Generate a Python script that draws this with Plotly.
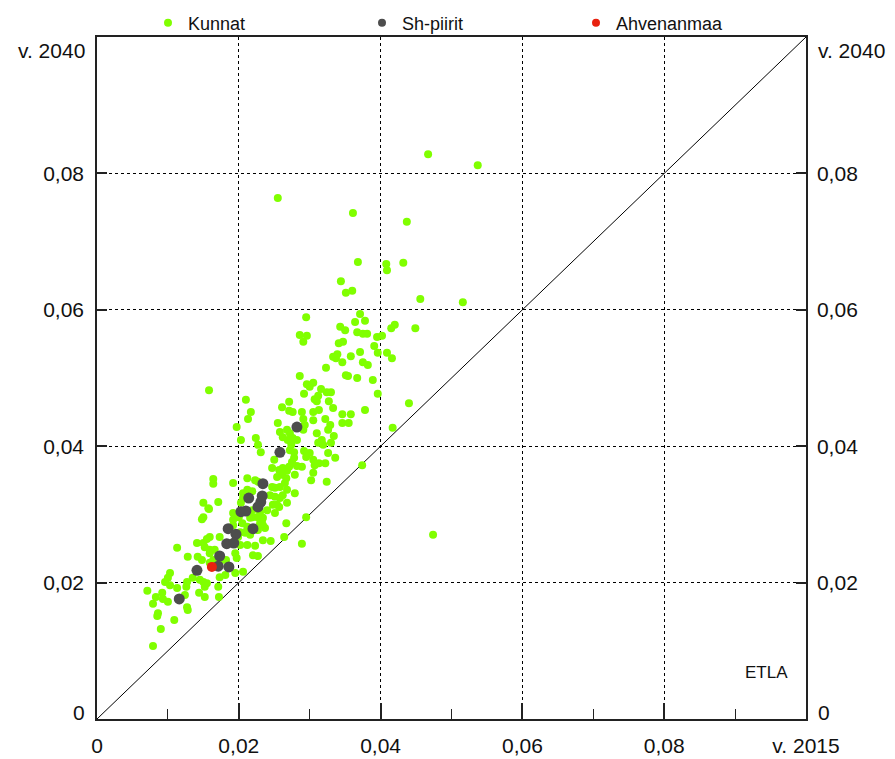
import plotly.graph_objects as go

# ---- data (share 2015 vs share 2040) ----
kunnat_2015 = [
    0.0255, 0.0467, 0.0537, 0.0361, 0.0437, 0.0368, 0.0408, 0.0409, 0.0432, 0.0344,
    0.0351, 0.0360, 0.0456, 0.0516, 0.0295, 0.0371, 0.0364, 0.0378, 0.0343, 0.0350,
    0.0415, 0.0420, 0.0449, 0.0367, 0.0375, 0.0381, 0.0286, 0.0296, 0.0395, 0.0402,
    0.0291, 0.0341, 0.0347, 0.0391, 0.0371, 0.0333, 0.0339, 0.0337, 0.0358, 0.0396,
    0.0346, 0.0409, 0.0416, 0.0375, 0.0382, 0.0323, 0.0286, 0.0351, 0.0354, 0.0367,
    0.0389, 0.0296, 0.0305, 0.0300, 0.0316, 0.0324, 0.0330, 0.0292, 0.0312, 0.0307,
    0.0327, 0.0396, 0.0440, 0.0333, 0.0378, 0.0310, 0.0158, 0.0210, 0.0271, 0.0261,
    0.0217, 0.0213, 0.0271, 0.0276, 0.0289, 0.0305, 0.0313, 0.0346, 0.0358, 0.0305,
    0.0322, 0.0346, 0.0355, 0.0255, 0.0197, 0.0291, 0.0293, 0.0291, 0.0329, 0.0326,
    0.0417, 0.0258, 0.0268, 0.0262, 0.0272, 0.0269, 0.0276, 0.0282, 0.0310, 0.0334,
    0.0203, 0.0224, 0.0227, 0.0231, 0.0312, 0.0317, 0.0319, 0.0330, 0.0274, 0.0278,
    0.0292, 0.0300, 0.0272, 0.0295, 0.0305, 0.0313, 0.0307, 0.0322, 0.0336, 0.0326,
    0.0302, 0.0324, 0.0374, 0.0278, 0.0275, 0.0271, 0.0282, 0.0289, 0.0250, 0.0247,
    0.0257, 0.0262, 0.0268, 0.0261, 0.0267, 0.0254, 0.0279, 0.0265, 0.0258, 0.0268,
    0.0262, 0.0258, 0.0254, 0.0268, 0.0247, 0.0251, 0.0212, 0.0223, 0.0227, 0.0192,
    0.0164, 0.0164, 0.0212, 0.0206, 0.0219, 0.0244, 0.0251, 0.0248, 0.0257, 0.0240,
    0.0251, 0.0171, 0.0157, 0.0150, 0.0192, 0.0197, 0.0192, 0.0200, 0.0216, 0.0226,
    0.0233, 0.0205, 0.0212, 0.0192, 0.0209, 0.0227, 0.0237, 0.0173, 0.0159, 0.0155,
    0.0212, 0.0223, 0.0234, 0.0245, 0.0267, 0.0295, 0.0264, 0.0289, 0.0152, 0.0159,
    0.0195, 0.0197, 0.0220, 0.0227, 0.0150, 0.0158, 0.0148, 0.0305, 0.0234, 0.0220,
    0.0230, 0.0202, 0.0216, 0.0150, 0.0141, 0.0166, 0.0159, 0.0199, 0.0202, 0.0128,
    0.0113, 0.0142, 0.0148, 0.0164, 0.0159, 0.0176, 0.0182, 0.0206, 0.0195, 0.0173,
    0.0181, 0.0135, 0.0145, 0.0150, 0.0155, 0.0152, 0.0127, 0.0126, 0.0103, 0.0100,
    0.0096, 0.0103, 0.0113, 0.0071, 0.0083, 0.0092, 0.0093, 0.0100, 0.0124, 0.0144,
    0.0152, 0.0171, 0.0172, 0.0079, 0.0127, 0.0128, 0.0086, 0.0085, 0.0109, 0.0090,
    0.0079, 0.0279, 0.0234, 0.0212, 0.0203, 0.0219, 0.0230, 0.0206, 0.0474,
]
kunnat_2040 = [
    0.0764, 0.0828, 0.0812, 0.0742, 0.0729, 0.0670, 0.0667, 0.0658, 0.0669, 0.0642,
    0.0625, 0.0628, 0.0616, 0.0611, 0.0589, 0.0594, 0.0582, 0.0584, 0.0575, 0.0570,
    0.0573, 0.0578, 0.0573, 0.0567, 0.0565, 0.0565, 0.0563, 0.0562, 0.0560, 0.0562,
    0.0553, 0.0551, 0.0553, 0.0547, 0.0538, 0.0531, 0.0535, 0.0529, 0.0532, 0.0537,
    0.0523, 0.0537, 0.0529, 0.0523, 0.0519, 0.0515, 0.0503, 0.0504, 0.0503, 0.0500,
    0.0497, 0.0491, 0.0493, 0.0487, 0.0484, 0.0479, 0.0479, 0.0477, 0.0474, 0.0469,
    0.0466, 0.0477, 0.0463, 0.0456, 0.0453, 0.0466, 0.0482, 0.0468, 0.0465, 0.0457,
    0.0450, 0.0440, 0.0452, 0.0450, 0.0450, 0.0450, 0.0453, 0.0447, 0.0447, 0.0438,
    0.0440, 0.0434, 0.0434, 0.0434, 0.0428, 0.0440, 0.0431, 0.0424, 0.0431, 0.0424,
    0.0427, 0.0421, 0.0424, 0.0413, 0.0419, 0.0409, 0.0412, 0.0409, 0.0419, 0.0415,
    0.0409, 0.0412, 0.0402, 0.0391, 0.0405, 0.0409, 0.0402, 0.0405, 0.0402, 0.0391,
    0.0393, 0.0390, 0.0394, 0.0384, 0.0380, 0.0375, 0.0372, 0.0375, 0.0383, 0.0390,
    0.0350, 0.0348, 0.0372, 0.0383, 0.0377, 0.0370, 0.0371, 0.0370, 0.0380, 0.0368,
    0.0365, 0.0368, 0.0364, 0.0358, 0.0353, 0.0355, 0.0331, 0.0346, 0.0340, 0.0336,
    0.0328, 0.0324, 0.0314, 0.0317, 0.0340, 0.0339, 0.0353, 0.0350, 0.0348, 0.0346,
    0.0352, 0.0345, 0.0336, 0.0331, 0.0334, 0.0328, 0.0326, 0.0314, 0.0311, 0.0306,
    0.0302, 0.0318, 0.0309, 0.0296, 0.0302, 0.0299, 0.0292, 0.0296, 0.0295, 0.0296,
    0.0292, 0.0287, 0.0282, 0.0284, 0.0273, 0.0277, 0.0280, 0.0267, 0.0267, 0.0264,
    0.0255, 0.0254, 0.0262, 0.0261, 0.0287, 0.0296, 0.0267, 0.0257, 0.0252, 0.0248,
    0.0243, 0.0236, 0.0240, 0.0239, 0.0317, 0.0308, 0.0293, 0.0361, 0.0295, 0.0296,
    0.0287, 0.0274, 0.0270, 0.0258, 0.0258, 0.0248, 0.0243, 0.0267, 0.0255, 0.0238,
    0.0251, 0.0238, 0.0233, 0.0233, 0.0229, 0.0233, 0.0233, 0.0216, 0.0214, 0.0208,
    0.0211, 0.0207, 0.0204, 0.0201, 0.0199, 0.0194, 0.0201, 0.0194, 0.0214, 0.0207,
    0.0201, 0.0196, 0.0192, 0.0188, 0.0179, 0.0185, 0.0176, 0.0172, 0.0182, 0.0185,
    0.0179, 0.0194, 0.0179, 0.0169, 0.0164, 0.0160, 0.0155, 0.0151, 0.0145, 0.0132,
    0.0107, 0.0358, 0.0284, 0.0277, 0.0317, 0.0306, 0.0303, 0.0324, 0.0270,
]
shpiirit_2015 = [0.0282, 0.0258, 0.0234, 0.0214, 0.0233, 0.0231, 0.0227, 0.0203, 0.0210, 0.0220,
                 0.0185, 0.0196, 0.0183, 0.0193, 0.0173, 0.0171, 0.0186, 0.0141, 0.0116]
shpiirit_2040 = [0.0428, 0.0391, 0.0345, 0.0324, 0.0327, 0.0318, 0.0311, 0.0304, 0.0305, 0.0279,
                 0.0279, 0.0271, 0.0257, 0.0258, 0.0239, 0.0224, 0.0223, 0.0218, 0.0176]
ahvenanmaa_2015 = [0.0162]
ahvenanmaa_2040 = [0.0223]

series_names = ["Kunnat", "Sh-piirit", "Ahvenanmaa"]
x_tick_vals = [0, 0.02, 0.04, 0.06, 0.08, 0.1]
x_tick_text = ["0", "0,02", "0,04", "0,06", "0,08", "v. 2015"]
y_tick_vals = [0.02, 0.04, 0.06, 0.08]
y_tick_text = ["0,02", "0,04", "0,06", "0,08"]
y_end_labels = ["0", "v. 2040"]
y_end_vals = [0, 0.1]
diag = [0, 0.1]
source_label = "ETLA"

GREEN = "#80ff00"
GRAY = "#4d4d4d"
RED = "#e8210f"
FONT = "Liberation Sans, Arial, sans-serif"

fig = go.Figure()
fig.add_trace(go.Scatter(x=diag, y=diag, mode="lines", line=dict(color="black", width=1),
                         showlegend=False, hoverinfo="skip"))
fig.add_trace(go.Scatter(x=kunnat_2015, y=kunnat_2040, mode="markers",
                         marker=dict(color=GREEN, size=8), showlegend=False))
fig.add_trace(go.Scatter(x=shpiirit_2015, y=shpiirit_2040, mode="markers",
                         marker=dict(color=GRAY, size=11), showlegend=False))
fig.add_trace(go.Scatter(x=ahvenanmaa_2015, y=ahvenanmaa_2040, mode="markers",
                         marker=dict(color=RED, size=10), showlegend=False))
# legend entries
for name, col in zip(series_names, [GREEN, GRAY, RED]):
    fig.add_trace(go.Scatter(x=[None], y=[None], mode="markers", name=name,
                             marker=dict(color=col, size=8)))

# invisible trace for right axis
fig.add_trace(go.Scatter(x=[None], y=[None], yaxis="y2", showlegend=False))

axis_line = dict(showline=True, linecolor="#222", linewidth=1.5)
fig.update_layout(
    width=895, height=759,
    margin=dict(l=97, r=89, t=37, b=40, autoexpand=False),
    paper_bgcolor="white", plot_bgcolor="white",
    font=dict(family=FONT, size=21, color="#111"),
    showlegend=True,
    legend=dict(orientation="h", x=(148 - 97) / 709, xanchor="left",
                y=1 + (37 - 23) / 682, yanchor="middle",
                font=dict(size=18, family=FONT),
                entrywidth=169, entrywidthmode="pixels",
                bgcolor="rgba(0,0,0,0)", traceorder="normal"),
    xaxis=dict(range=[0, 0.1], tickvals=x_tick_vals, ticktext=x_tick_text,
               ticks="inside", ticklen=16, tickcolor="#222", tickwidth=1.5,
               minor=dict(dtick=0.01, tick0=0, ticks="inside", ticklen=10,
                          tickcolor="#222", tickwidth=1.2, showgrid=False),
               showgrid=True, gridcolor="black", griddash="dot", gridwidth=1,
               mirror=True, zeroline=False, ticklabelstandoff=7, **axis_line),
    yaxis=dict(range=[0, 0.1], tickvals=y_tick_vals, ticktext=y_tick_text,
               ticks="inside", ticklen=10, tickcolor="#222", tickwidth=1.5,
               showgrid=True, gridcolor="black", griddash="dot", gridwidth=1,
               mirror=True, zeroline=False, ticklabelstandoff=7, **axis_line),
    yaxis2=dict(range=[0, 0.1], overlaying="y", side="right",
                tickvals=y_tick_vals, ticktext=y_tick_text,
                ticks="inside", ticklen=10, tickcolor="#222", tickwidth=1.5,
                showgrid=False, zeroline=False, ticklabelstandoff=5, **axis_line),
)

annotations = []
for txt, val in zip(y_end_labels, y_end_vals):
    shift = 7 if val == 0 else -13
    annotations.append(dict(text=txt, xref="paper", x=0, xanchor="right", xshift=-10,
                            yref="y", y=val, yanchor="middle", yshift=shift,
                            showarrow=False, font=dict(size=21, family=FONT, color="#111")))
    annotations.append(dict(text=txt, xref="paper", x=1, xanchor="left", xshift=10,
                            yref="y", y=val, yanchor="middle", yshift=shift,
                            showarrow=False, font=dict(size=21, family=FONT, color="#111")))
annotations.append(dict(text=source_label, xref="paper", x=(790 - 97) / 709, xanchor="right",
                        yref="paper", y=(719 - 672) / 682, yanchor="middle",
                        showarrow=False, font=dict(size=17, family=FONT, color="#111")))
fig.update_layout(annotations=annotations)

fig.write_html("out.html", config={"displayModeBar": False},
               post_script="document.body.style.margin='0';document.body.style.overflow='hidden';")
